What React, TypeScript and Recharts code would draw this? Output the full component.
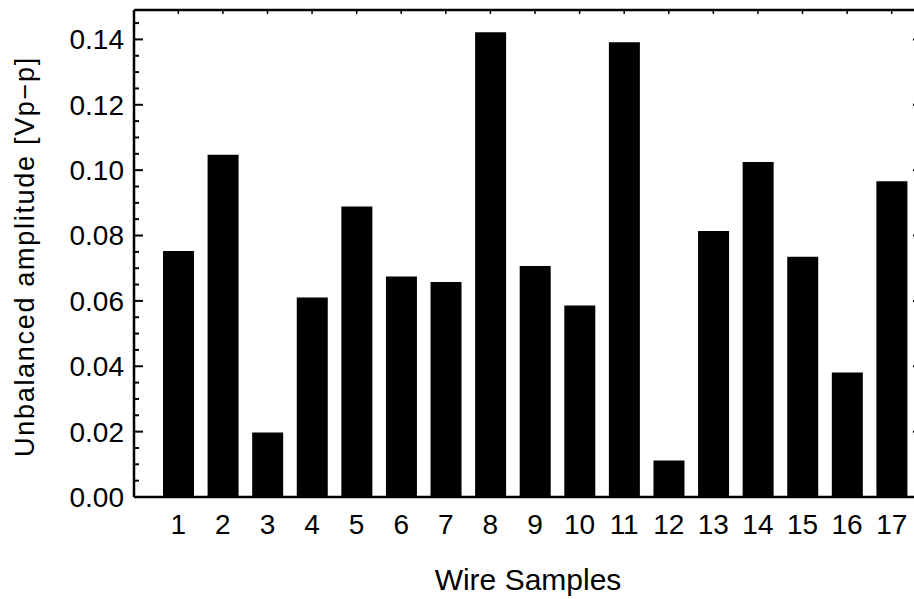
import { Bar, BarChart, ReferenceLine, XAxis, YAxis } from "recharts";

const samples = ["1", "2", "3", "4", "5", "6", "7", "8", "9", "10", "11", "12", "13", "14", "15", "16", "17"];
const amplitudes = [0.0753, 0.1047, 0.0197, 0.061, 0.0889, 0.0675, 0.0658, 0.1422, 0.0707, 0.0586, 0.1391, 0.0112, 0.0814, 0.1025, 0.0735, 0.0381, 0.0966];
const majorTicks = [0, 0.02, 0.04, 0.06, 0.08, 0.1, 0.12, 0.14];
const minorTicks = [
  0, 0.005, 0.01, 0.015, 0.02, 0.025, 0.03, 0.035, 0.04, 0.045, 0.05, 0.055, 0.06, 0.065, 0.07,
  0.075, 0.08, 0.085, 0.09, 0.095, 0.1, 0.105, 0.11, 0.115, 0.12, 0.125, 0.13, 0.135, 0.14, 0.145,
];

const data = samples.map((s, i) => ({ sample: s, amp: amplitudes[i] }));

const FONT = "'Liberation Sans', Arial, sans-serif";
const domain: [number, number] = [0, 0.149];
const pad = { left: 22, right: 8 };
const line = { stroke: "#000", strokeWidth: 2.5 };
const tickStroke = { stroke: "#000", strokeWidth: 2 };
const noLabel = () => <g />;

const isMajor = (v: number) => majorTicks.some((m) => Math.abs(m - v) < 1e-9);

// left axis labels, majors only
function LeftTick(props: any) {
  const { x, y, payload } = props;
  const v: number = payload.value;
  if (!isMajor(v)) return <g />;
  return (
    <text x={x} y={y} dy="0.355em" textAnchor="end" fill="#000" fontSize={28} fontFamily={FONT}>
      {v.toFixed(2)}
    </text>
  );
}

// short inward tick on the left frame, drawn from a reference line's start point
const minorTickShape = (props: any) => {
  const { x1, y1 } = props;
  return <line x1={x1} x2={x1 + 5} y1={y1} y2={y1} stroke="#000" strokeWidth={2} />;
};

export default function App() {
  return (
    <div style={{ position: "fixed", left: 0, top: 0, width: 914, height: 599, overflow: "hidden", background: "#fff" }}>
      <BarChart
        width={930}
        height={599}
        data={data}
        margin={{ top: 10, right: 8, bottom: 0, left: 0 }}
        barSize={31}
        style={{ fontFamily: FONT }}
      >
        <XAxis
          xAxisId="x"
          dataKey="sample"
          height={102}
          padding={pad}
          axisLine={line}
          tickLine={false}
          tickSize={0}
          tickMargin={17}
          tick={{ fill: "#000", fontSize: 28 }}
          interval={0}
          label={{ value: "Wire Samples", position: "insideBottom", offset: 9, fill: "#000", fontSize: 30 }}
        />
        <XAxis
          xAxisId="top"
          orientation="top"
          dataKey="sample"
          mirror
          height={1}
          padding={pad}
          axisLine={line}
          tickLine={{ stroke: "#000", strokeWidth: 1.5 }}
          tickSize={4}
          tick={noLabel}
          interval={0}
        />
        <YAxis
          yAxisId="y"
          type="number"
          domain={domain}
          allowDataOverflow
          ticks={majorTicks}
          interval={0}
          width={134}
          axisLine={line}
          tickLine={tickStroke}
          tickSize={-9}
          tickMargin={19}
          tick={LeftTick}
          label={{
            content: ({ viewBox }: any) => {
              const x = viewBox.x + 25;
              const y = viewBox.y + viewBox.height / 2 + 3;
              return (
                <text
                  x={x}
                  y={y}
                  transform={`rotate(-90, ${x}, ${y})`}
                  textAnchor="middle"
                  dominantBaseline="central"
                  fill="#000"
                  fontSize={27}
                  letterSpacing={1.7}
                  fontFamily={FONT}
                >
                  Unbalanced amplitude [Vp−p]
                </text>
              );
            },
          }}
        />
        <YAxis yAxisId="minorR" orientation="right" type="number" domain={domain} allowDataOverflow ticks={minorTicks} interval={0} mirror width={1} axisLine={line} tick={noLabel} tickSize={5} tickLine={tickStroke} />
        <YAxis yAxisId="majorR" orientation="right" type="number" domain={domain} allowDataOverflow ticks={majorTicks} interval={0} mirror width={1} axisLine={false} tick={noLabel} tickSize={9} tickLine={tickStroke} />
        <Bar xAxisId="x" yAxisId="y" dataKey="amp" fill="#000" isAnimationActive={false} />
        {minorTicks
          .filter((v) => !isMajor(v))
          .map((v) => (
            <ReferenceLine key={v} xAxisId="x" yAxisId="y" y={v} stroke="#000" shape={minorTickShape} />
          ))}
      </BarChart>
    </div>
  );
}
